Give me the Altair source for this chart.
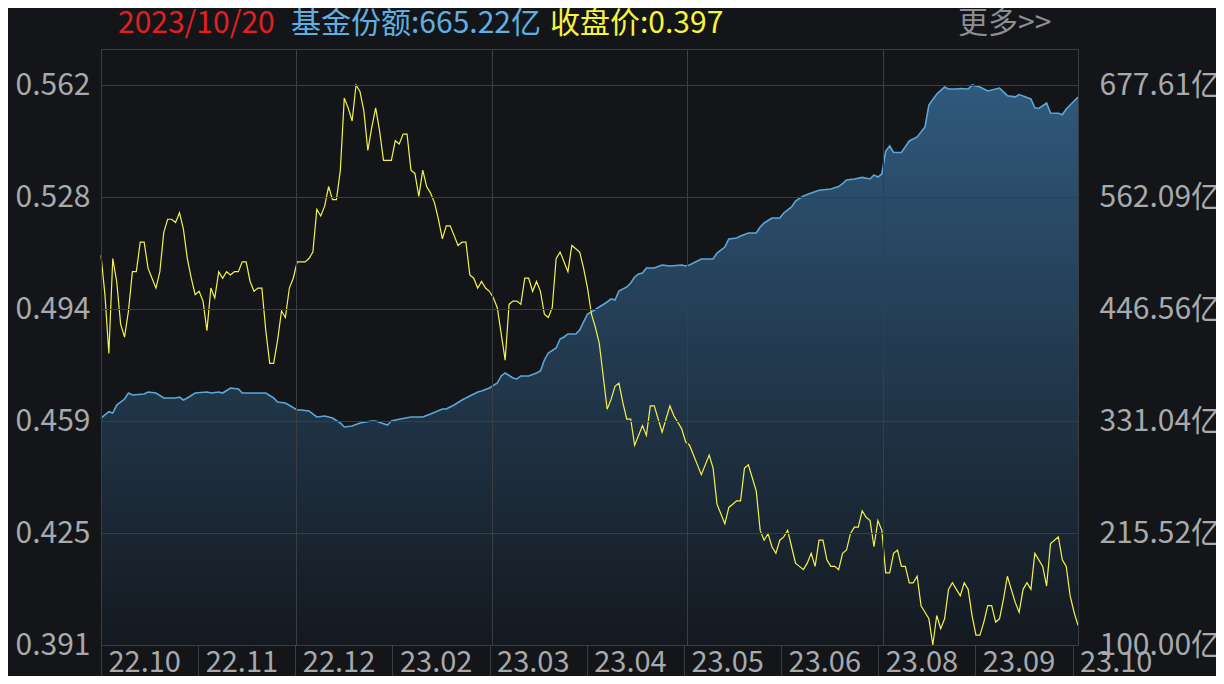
import json
import altair as alt
import pandas as pd

# ---------------- data ----------------
trade_date = "2023/10/20"

# daily close price, one value per trading day (day index 0..249)
price_close = [
    0.510, 0.498, 0.480, 0.509, 0.502, 0.489, 0.485, 0.493, 0.505, 0.505,
    0.514, 0.514, 0.506, 0.503, 0.500, 0.505, 0.517, 0.521, 0.521, 0.520,
    0.523, 0.518, 0.509, 0.503, 0.498, 0.499, 0.496, 0.487, 0.500, 0.497,
    0.505, 0.503, 0.505, 0.504, 0.505, 0.505, 0.508, 0.508, 0.502, 0.499,
    0.500, 0.500, 0.487, 0.477, 0.477, 0.484, 0.493, 0.491, 0.500, 0.503,
    0.508, 0.508, 0.508, 0.509, 0.511, 0.524, 0.522, 0.525, 0.531, 0.527,
    0.527, 0.536, 0.558, 0.555, 0.551, 0.562, 0.560, 0.554, 0.542, 0.549,
    0.555, 0.548, 0.539, 0.539, 0.539, 0.545, 0.544, 0.547, 0.547, 0.536,
    0.535, 0.528, 0.536, 0.531, 0.529, 0.526, 0.521, 0.515, 0.519, 0.519,
    0.516, 0.513, 0.514, 0.514, 0.504, 0.503, 0.500, 0.502, 0.500, 0.499,
    0.497, 0.494, 0.486, 0.478, 0.495, 0.496, 0.496, 0.495, 0.503, 0.503,
    0.499, 0.502, 0.499, 0.492, 0.491, 0.494, 0.509, 0.511, 0.508, 0.505,
    0.513, 0.512, 0.511, 0.506, 0.500, 0.492, 0.488, 0.483, 0.473, 0.463,
    0.466, 0.470, 0.471, 0.465, 0.460, 0.460, 0.452, 0.455, 0.458, 0.455,
    0.464, 0.464, 0.460, 0.456, 0.460, 0.464, 0.461, 0.459, 0.457, 0.453,
    0.452, 0.449, 0.446, 0.443, 0.446, 0.449, 0.445, 0.434, 0.431, 0.428,
    0.433, 0.434, 0.435, 0.435, 0.445, 0.446, 0.442, 0.438, 0.426, 0.423,
    0.425, 0.421, 0.419, 0.423, 0.424, 0.426, 0.421, 0.416, 0.415, 0.414,
    0.416, 0.419, 0.415, 0.423, 0.423, 0.417, 0.415, 0.415, 0.414, 0.419,
    0.420, 0.425, 0.427, 0.427, 0.432, 0.430, 0.429, 0.421, 0.429, 0.426,
    0.413, 0.413, 0.419, 0.420, 0.415, 0.415, 0.410, 0.410, 0.412, 0.403,
    0.401, 0.399, 0.391, 0.400, 0.396, 0.399, 0.408, 0.410, 0.408, 0.406,
    0.410, 0.408, 0.400, 0.394, 0.394, 0.398, 0.403, 0.403, 0.398, 0.399,
    0.405, 0.412, 0.408, 0.404, 0.401, 0.408, 0.410, 0.408, 0.419, 0.417,
    0.415, 0.409, 0.422, 0.423, 0.424, 0.417, 0.415, 0.406, 0.401, 0.397,
]
price_day = list(range(len(price_close)))

# fund share (亿份), read at the trading days where the curve turns
share_day = [
    0, 2, 3, 4, 6, 7, 8, 11, 12, 14, 16, 17, 19, 20, 21, 22, 24, 27, 28, 30,
    31, 33, 35, 36, 38, 42, 44, 45, 47, 50, 51, 53, 55, 57, 59, 61, 62, 64, 66, 69,
    70, 73, 74, 75, 79, 82, 84, 87, 88, 90, 92, 94, 96, 97, 99, 101, 102, 103, 105, 106,
    107, 109, 111, 112, 113, 114, 116, 117, 118, 119, 121, 122, 123, 124, 125, 127, 129, 130, 131, 132,
    134, 135, 136, 137, 138, 139, 141, 143, 145, 148, 149, 150, 152, 153, 156, 157, 159, 160, 162, 163,
    165, 167, 168, 169, 171, 173, 174, 176, 177, 179, 181, 183, 186, 188, 189, 190, 192, 194, 196, 197,
    198, 199, 200, 201, 202, 204, 206, 208, 210, 211, 213, 215, 216, 218, 219, 221, 222, 224, 226, 229,
    231, 233, 234, 237, 238, 239, 241, 242, 244, 245, 246, 248, 249,
]
share_val = [
    334.1, 340.6, 339.3, 347.5, 353.7, 359.9, 357.9, 358.9, 361.0, 359.9, 354.8, 354.8, 354.8, 355.8, 352.7, 354.8, 359.9, 361.0, 359.9, 361.0,
    359.9, 365.1, 364.0, 359.9, 359.9, 359.9, 354.8, 350.6, 349.6, 342.4, 342.4, 341.4, 335.2, 336.2, 334.1, 329.0, 324.9, 325.9, 329.0, 331.0,
    331.0, 326.9, 331.0, 332.1, 335.2, 335.2, 338.3, 343.4, 343.4, 347.5, 352.7, 356.8, 361.0, 362.0, 365.1, 370.2, 377.5, 380.6, 375.4, 374.4,
    377.5, 377.5, 380.6, 382.6, 394.0, 401.2, 406.3, 415.6, 417.7, 420.8, 420.8, 424.9, 433.2, 441.4, 443.5, 448.6, 453.8, 456.9, 455.9, 465.1,
    469.3, 473.4, 479.6, 482.7, 483.7, 488.9, 488.9, 492.0, 490.9, 492.0, 490.9, 492.0, 496.1, 498.1, 498.1, 504.3, 510.5, 518.8, 519.8, 521.9,
    525.0, 525.0, 531.1, 535.3, 540.4, 540.4, 545.6, 551.8, 558.0, 563.1, 566.2, 569.0, 570.3, 572.8, 575.8, 579.6, 580.7, 582.3, 580.7, 584.8,
    582.7, 585.8, 609.5, 614.7, 608.0, 608.0, 619.9, 624.0, 634.3, 657.0, 668.3, 675.5, 673.5, 673.5, 674.0, 673.5, 677.61, 675.5, 671.5, 674.5,
    666.6, 665.4, 667.7, 663.2, 654.1, 653.4, 659.0, 648.7, 648.4, 647.0, 652.9, 661.1, 665.22,
]

month_labels = ["22.10", "22.11", "22.12", "23.02", "23.03", "23.04",
                "23.05", "23.06", "23.08", "23.09", "23.10"]
price_ticks = [0.391, 0.4252, 0.4594, 0.4936, 0.5278, 0.562]
share_ticks = [100.0, 215.5215, 331.043, 446.5645, 562.086, 677.6075]

# ---------------- styling ----------------
BG = "#131519"
GRID = "#3a3d44"
LABEL = "#a7a9ad"
FONT = "Noto Sans CJK SC"
FS_Y = 30
FS_X = 29
FS_H = 30

W, H = 977, 596
n_days = len(price_close) - 1          # 249
x_scale = alt.Scale(domain=[0, n_days], nice=False, zero=False)
price_scale = alt.Scale(domain=[0.391, 0.391 + 0.171 * H / 560], nice=False, zero=False)
share_scale = alt.Scale(domain=[100, 100 + 577.6075 * H / 560], nice=False, zero=False)

box_step = n_days * 97.15 / W
box_vals = [k * box_step for k in range(len(month_labels))]
grid_vals = [k * n_days / 5 for k in range(6)]
label_expr = f"{json.dumps(month_labels)}[round(datum.value / {box_step})]"

price_df = pd.DataFrame({"day": price_day, "close": price_close})
share_df = pd.DataFrame({"day": share_day, "share": share_val})

area = alt.Chart(share_df).mark_area(
    color=alt.Gradient(
        gradient="linear",
        stops=[alt.GradientStop(color="#30597c", offset=0),
               alt.GradientStop(color="#141920", offset=1)],
        x1=1, x2=1, y1=0, y2=1,
    ),
    interpolate="linear",
).encode(
    x=alt.X("day:Q", scale=x_scale, title=None,
            axis=alt.Axis(orient="top", values=grid_vals, grid=True, gridColor=GRID,
                          labels=False, ticks=False, domain=False, zindex=1)),
    y=alt.Y("share:Q", scale=share_scale, title=None,
            axis=alt.Axis(orient="right", values=share_ticks, grid=False, domain=False,
                          ticks=False, labelPadding=21, labelFont=FONT, labelFontSize=FS_Y,
                          labelColor=LABEL, labelOverlap=False, labelBaseline="middle",
                          labelExpr="format(datum.value, '.2f') + '亿'")),
    y2=alt.datum(100),
)

share_line = alt.Chart(share_df).mark_line(color="#5ba8d6", strokeWidth=1.6).encode(
    x=alt.X("day:Q", scale=x_scale, axis=None),
    y=alt.Y("share:Q", scale=share_scale, axis=None),
)

price_line = alt.Chart(price_df).mark_line(color="#f4f24a", strokeWidth=1.2).encode(
    x=alt.X("day:Q", scale=x_scale, title=None,
            axis=alt.Axis(orient="bottom", values=box_vals, labelExpr=label_expr,
                          grid=False, domain=False, ticks=True, tickSize=39,
                          tickColor=GRID, labelAlign="left", labelBaseline="middle",
                          labelPadding=-22, labelOffset=7, labelFlush=False,
                          labelOverlap=False, labelFont=FONT, labelFontSize=FS_X,
                          labelColor=LABEL)),
    y=alt.Y("close:Q", scale=price_scale, title=None,
            axis=alt.Axis(orient="left", values=price_ticks, format=".3f", grid=True,
                          gridColor=GRID, domain=False, ticks=False, labelPadding=11,
                          labelFont=FONT, labelFontSize=FS_Y, labelColor=LABEL,
                          labelOverlap=False, zindex=1)),
)


def header(text, color, x):
    return alt.Chart(alt.Data(values=[{"t": text}])).mark_text(
        font=FONT, fontSize=FS_H, color=color, align="left", baseline="middle"
    ).encode(text="t:N", x=alt.value(x), y=alt.value(-25))


headers = [
    header(trade_date, "#e3201f", 17),
    header(f"基金份额:{share_val[-1]:.2f}亿", "#5fb0e0", 190),
    header(f"收盘价:{price_close[-1]:.3f}", "#f6f43c", 449),
    header("更多>>", "#8c8e92", 857),
]

chart = alt.layer(area, share_line, price_line, *headers).resolve_scale(
    y="independent"
).resolve_axis(x="independent", y="independent").properties(
    width=W, height=H,
    padding={"left": 93, "top": 41, "right": 138, "bottom": 31},
    autosize=alt.AutoSizeParams(type="none"),
).configure(background=BG).configure_view(stroke=GRID, strokeWidth=1)

chart.save("out.html", embed_options={"renderer": "svg", "actions": False})
